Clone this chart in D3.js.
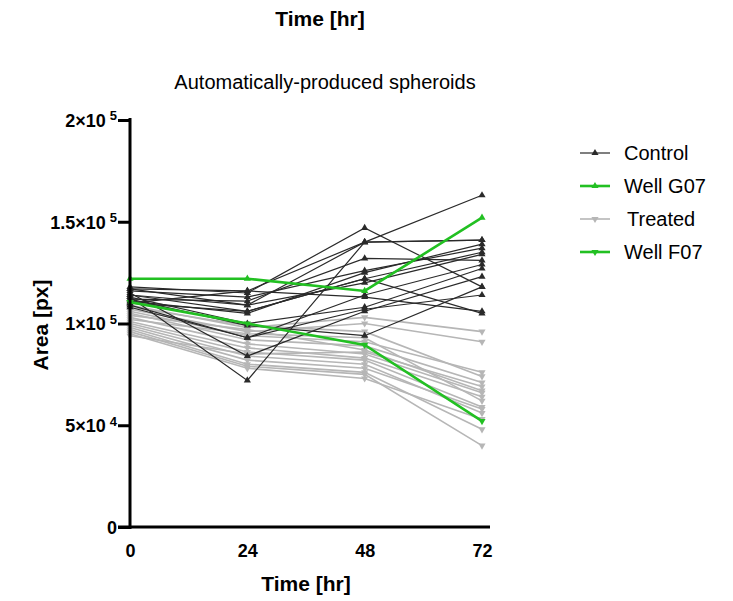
<!DOCTYPE html>
<html>
<head>
<meta charset="utf-8">
<script src="https://cdn.jsdelivr.net/npm/d3@7"></script>
<style>
  body { margin: 0; background: #fff; }
  text { font-family: "Liberation Sans", Arial, sans-serif; }
</style>
</head>
<body>
<div id="graph"></div>
<script>
// time points (hr) and tick labels
var times = [0, 24, 48, 72];
var yTicks = [0, 50000, 100000, 150000, 200000];
var yTickLabels = [['0', ''], ['5×10', '4'], ['1×10', '5'], ['1.5×10', '5'], ['2×10', '5']];

// area values in thousands of px, one row per well
var controlWells = [
  [113, 72, 140, 141],
  [118, 115, 147, 118],
  [110, 116, 140, 141],
  [117, 109, 140, 163],
  [112, 111, 132, 131],
  [116, 113, 126, 137],
  [111, 105, 125, 139],
  [114, 106, 122, 135],
  [108, 93, 114, 129],
  [117, 116, 113, 106],
  [110, 106, 122, 105],
  [113, 100, 108, 127],
  [115, 84, 106, 123],
  [112, 99, 94, 118],
  [109, 93, 107, 114],
  [114, 109, 120, 134]
];
var treatedWells = [
  [109, 98, 103, 96],
  [107, 96, 100, 91],
  [106, 94, 91, 76],
  [105, 92, 89, 71],
  [104, 97, 87, 67],
  [103, 90, 85, 66],
  [101, 88, 83, 64],
  [100, 86, 82, 59],
  [99, 84, 80, 56],
  [98, 82, 78, 58],
  [97, 80, 76, 48],
  [96, 79, 75, 40],
  [95, 78, 73, 53],
  [94, 85, 86, 69],
  [102, 95, 93, 62],
  [108, 99, 96, 74]
];
var wellG07 = [122, 122, 116, 152];
var wellF07 = [110.5, 100, 89.5, 52];

var legendNames = ['Control', 'Well G07', 'Treated', 'Well F07'];

var width = 733, height = 601;
var green = '#22c022';

var svg = d3.select('#graph').append('svg')
  .attr('width', width)
  .attr('height', height);

// scales
var x = d3.scaleLinear().domain([0, 72]).range([130, 482]);
var y = d3.scaleLinear().domain([0, 200000]).range([527, 120]);

var line = d3.line()
  .x(function(d, i) { return x(times[i]); })
  .y(function(d) { return y(d * 1000); });

var tri = d3.symbol().type(d3.symbolTriangle).size(22);

function drawGroup(rows, color, width, down, cls) {
  var g = svg.append('g').attr('class', cls);
  rows.forEach(function(row) {
    g.append('path')
      .datum(row)
      .attr('d', line)
      .attr('fill', 'none')
      .attr('stroke', color)
      .attr('stroke-width', width);
    g.selectAll(null)
      .data(row)
      .enter().append('path')
      .attr('d', tri)
      .attr('fill', color)
      .attr('transform', function(d, i) {
        return 'translate(' + x(times[i]) + ',' + y(d * 1000) + ')' + (down ? ' rotate(180)' : '');
      });
  });
}

drawGroup(treatedWells, '#b6b6b6', 1.6, true, 'treated');
drawGroup(controlWells, '#2a2a2a', 1.2, false, 'control');
drawGroup([wellF07], green, 2.6, true, 'f07');
drawGroup([wellG07], green, 2.6, false, 'g07');

// y axis
var yAxis = svg.append('g')
  .attr('transform', 'translate(130,0)')
  .call(d3.axisLeft(y).tickValues(yTicks).tickSize(12).tickFormat(''));
yAxis.select('.domain').attr('stroke', '#000').attr('stroke-width', 3)
  .attr('d', 'M0,118V529');
yAxis.selectAll('.tick line').attr('stroke', '#000').attr('stroke-width', 3);

yAxis.selectAll('.tick').append('text')
  .attr('x', -13)
  .attr('text-anchor', 'end')
  .attr('fill', '#000')
  .style('font-size', '18px')
  .style('font-weight', 'bold')
  .each(function(d, i) {
    var t = d3.select(this);
    var lab = yTickLabels[i];
    t.attr('dy', '0.36em');
    if (lab[1]) {
      t.append('tspan').text(lab[0]);
      t.append('tspan').attr('dx', 4).attr('dy', '-0.5em').style('font-size', '13px').text(lab[1]);
    } else {
      t.text(lab[0]);
    }
  });

// x axis
var xAxis = svg.append('g')
  .attr('transform', 'translate(0,527)')
  .call(d3.axisBottom(x).tickValues(times).tickSize(0).tickPadding(17));
xAxis.select('.domain').attr('stroke', '#000').attr('stroke-width', 3)
  .attr('d', 'M118,0H490');
xAxis.selectAll('.tick text')
  .attr('fill', '#000')
  .style('font-size', '18px')
  .style('font-weight', 'bold');

// axis titles
svg.append('text')
  .attr('x', 306).attr('y', 591)
  .attr('text-anchor', 'middle')
  .style('font-size', '21px').style('font-weight', 'bold')
  .text('Time [hr]');

svg.append('text')
  .attr('transform', 'translate(48,325) rotate(-90)')
  .attr('text-anchor', 'middle')
  .style('font-size', '21px').style('font-weight', 'bold')
  .text('Area [px]');

// titles on top
svg.append('text')
  .attr('x', 320).attr('y', 26)
  .attr('text-anchor', 'middle')
  .style('font-size', '21px').style('font-weight', 'bold')
  .text('Time [hr]');

svg.append('text')
  .attr('x', 325).attr('y', 89)
  .attr('text-anchor', 'middle')
  .style('font-size', '20px')
  .text('Automatically-produced spheroids');

// legend
var legendStyle = [
  { color: '#2a2a2a', w: 1.2, down: false },
  { color: green, w: 2.6, down: false },
  { color: '#b6b6b6', w: 1.6, down: true },
  { color: green, w: 2.6, down: true }
];
var legend = svg.append('g').attr('transform', 'translate(580,153)');
legendNames.forEach(function(name, i) {
  var s = legendStyle[i];
  var row = legend.append('g').attr('transform', 'translate(0,' + (i * 33) + ')');
  row.append('line')
    .attr('x1', 0).attr('x2', 30)
    .attr('stroke', s.color).attr('stroke-width', s.w);
  row.append('path')
    .attr('d', tri)
    .attr('fill', s.color)
    .attr('transform', 'translate(15,0)' + (s.down ? ' rotate(180)' : ''));
  row.append('text')
    .attr('x', i === 2 ? 47 : 44)
    .attr('dy', '0.36em')
    .style('font-size', '20px')
    .text(name);
});
</script>
</body>
</html>
